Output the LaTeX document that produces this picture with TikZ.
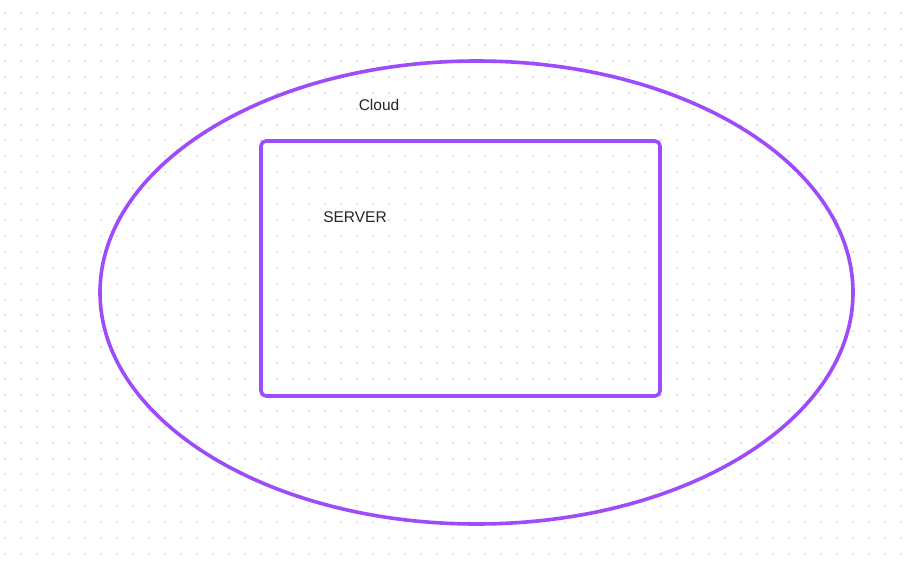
\documentclass[tikz,border=0pt]{standalone}
\usepackage{fontspec}
\setmainfont{Liberation Sans}
\definecolor{cloudpurple}{RGB}{158,76,250}
\definecolor{griddot}{RGB}{226,226,226}
\begin{document}
\begin{tikzpicture}[x=1pt, y=-1pt, line join=round,
    outline/.style={draw=cloudpurple, line width=3.6pt},
    label/.style={font=\fontsize{15.5}{18}\selectfont, text=black!85, inner sep=0pt}]
    % canvas with dot grid
    \useasboundingbox (0,0) rectangle (912,561);
    \fill[white] (0,0) rectangle (912,561);
    \foreach \gx in {5,21,...,901}
        \foreach \gy in {13.3,29.2,...,557}
            \fill[griddot] (\gx-1,\gy-1) rectangle (\gx+1,\gy+1);

    % cloud boundary
    \draw[outline] (476.5,292.5) ellipse[x radius=376.5, y radius=231.5];
    \node[label] (cloud) at (379,105) {Cloud};

    % server box inside the cloud
    \draw[outline, rounded corners=5pt] (261,141) rectangle (660,396);
    \node[label] (server) at (355,217) {SERVER};
\end{tikzpicture}
\end{document}
